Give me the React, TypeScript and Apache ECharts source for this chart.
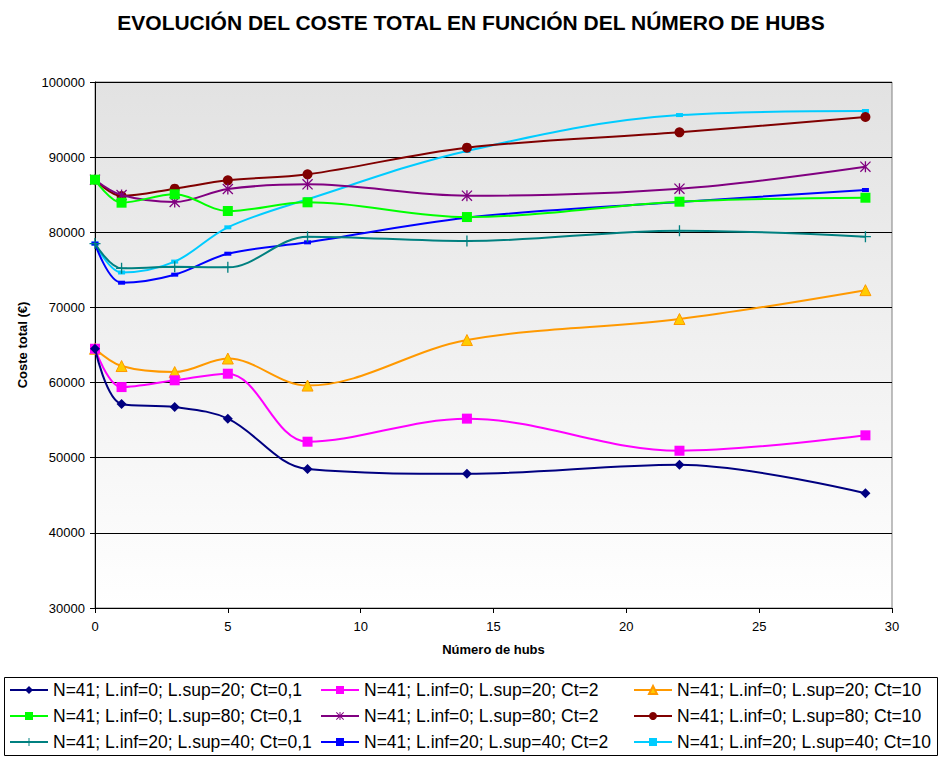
import React, { useEffect, useRef } from "react";
import * as echarts from "echarts";

const hubs = [0, 1, 3, 5, 8, 14, 22, 29];

const seriesNames = [
  "N=41; L.inf=0; L.sup=20; Ct=0,1",
  "N=41; L.inf=0; L.sup=20; Ct=2",
  "N=41; L.inf=0; L.sup=20; Ct=10",
  "N=41; L.inf=0; L.sup=80; Ct=0,1",
  "N=41; L.inf=0; L.sup=80; Ct=2",
  "N=41; L.inf=0; L.sup=80; Ct=10",
  "N=41; L.inf=20; L.sup=40; Ct=0,1",
  "N=41; L.inf=20; L.sup=40; Ct=2",
  "N=41; L.inf=20; L.sup=40; Ct=10",
];

const s1 = [64500, 57150, 56750, 55200, 48500, 47870, 49070, 45270];
const s2 = [64500, 59400, 60300, 61180, 52130, 55200, 50930, 52980];
const s3 = [64500, 62200, 61400, 63200, 59600, 65660, 68460, 72300];
const s4 = [87000, 83940, 85050, 82830, 83990, 82030, 84070, 84600];
const s5 = [87000, 84960, 84030, 85760, 86380, 84870, 85800, 88730];
const s6 = [87000, 84830, 85800, 86910, 87710, 91260, 93300, 95340];
const s7 = [78500, 75200, 75400, 75340, 79420, 78840, 80210, 79420];
const s8 = [78500, 73290, 74360, 77150, 78660, 81940, 84030, 85630];
const s9 = [78500, 74650, 76100, 80660, 84390, 90820, 95600, 96140];

const seriesValues = [s1, s2, s3, s4, s5, s6, s7, s8, s9];

const yTicks = { min: 30000, max: 100000, interval: 10000 };
const xTicks = { min: 0, max: 30, interval: 5 };

const starPath =
  "path://M4.4,0 H5.6 V10 H4.4 Z M0,0.8 L0.8,0 L10,9.2 L9.2,10 Z M9.2,0 L10,0.8 L0.8,10 L0,9.2 Z";
const plusPath = "path://M4.4,0 H5.6 V10 H4.4 Z M0,4.4 H10 V5.6 H0 Z";

const styles = [
  { color: "#000080", symbol: "diamond", size: 10, fill: "#000080" },
  { color: "#FF00FF", symbol: "rect", size: 10, fill: "#FF00FF" },
  { color: "#FF9900", symbol: "triangle", size: 11, fill: "#FFCC00" },
  { color: "#00FF00", symbol: "rect", size: 10, fill: "#00FF00" },
  { color: "#800080", symbol: starPath, size: 11, fill: "#800080" },
  { color: "#800000", symbol: "circle", size: 10, fill: "#800000" },
  { color: "#008080", symbol: plusPath, size: 11, fill: "#008080" },
  { color: "#0000FF", symbol: "rect", size: [7, 4], fill: "#0000FF" },
  { color: "#00CCFF", symbol: "rect", size: [7, 4], fill: "#00CCFF" },
];

const FONT = "'Liberation Sans', Arial, sans-serif";

export default function App() {
  const ref = useRef<HTMLDivElement>(null);
  useEffect(() => {
    if (!ref.current) return;
    const chart = echarts.init(ref.current, null, { renderer: "svg" });
    const series = seriesNames.map((name, i) => {
      const st = styles[i];
      return {
        name,
        type: "line",
        smooth: 0.35,
        data: hubs.map((h, j) => [h, seriesValues[i][j]]),
        symbol: st.symbol,
        symbolSize: st.size,
        showAllSymbol: true,
        lineStyle: { color: st.color, width: 2 },
        itemStyle: {
          color: st.fill,
          borderColor: st.color,
          borderWidth: i === 2 ? 1 : 0,
        },
        z: 10 - i,
      };
    });
    const legendCols = [
      [0, 3, 6],
      [1, 4, 7],
      [2, 5, 8],
    ];
    const legendLefts = [9, 320, 633];
    const legends = legendCols.map((col, k) => ({
      orient: "vertical",
      left: legendLefts[k],
      top: 680,
      padding: 0,
      itemGap: 6,
      itemWidth: 38,
      itemHeight: 10,
      textStyle: { fontFamily: FONT, fontSize: 17.5, lineHeight: 20, color: "#000" },
      data: col.map((i) => seriesNames[i]),
    }));
    chart.setOption({
      animation: false,
      backgroundColor: "#ffffff",
      title: {
        text: "EVOLUCIÓN DEL COSTE TOTAL EN FUNCIÓN DEL NÚMERO DE HUBS",
        left: "center",
        top: 7,
        textStyle: { fontFamily: FONT, fontSize: 21, fontWeight: "bold", color: "#000" },
      },
      legend: legends,
      graphic: [
        {
          type: "rect",
          shape: { x: 4.5, y: 677.5, width: 933, height: 78 },
          style: { fill: "none", stroke: "#000", lineWidth: 1 },
          silent: true,
        },
      ],
      grid: {
        left: 95,
        right: 50,
        top: 82,
        bottom: 150,
        show: true,
        borderColor: "#808080",
        borderWidth: 1,
        backgroundColor: new echarts.graphic.LinearGradient(0, 0, 0, 1, [
          { offset: 0, color: "#e2e2e2" },
          { offset: 1, color: "#ffffff" },
        ]),
      },
      xAxis: {
        type: "value",
        min: xTicks.min,
        max: xTicks.max,
        interval: xTicks.interval,
        name: "Número de hubs",
        nameLocation: "middle",
        nameGap: 35,
        nameTextStyle: { fontFamily: FONT, fontSize: 13, fontWeight: "bold", color: "#000" },
        axisLine: { lineStyle: { color: "#000", width: 1 } },
        axisTick: { show: true, length: 5, lineStyle: { color: "#000" } },
        axisLabel: { fontFamily: FONT, fontSize: 13, color: "#000", margin: 12 },
        splitLine: { show: false },
      },
      yAxis: {
        type: "value",
        min: yTicks.min,
        max: yTicks.max,
        interval: yTicks.interval,
        name: "Coste total (€)",
        nameLocation: "middle",
        nameGap: 66,
        nameRotate: 90,
        nameTextStyle: { fontFamily: FONT, fontSize: 13, fontWeight: "bold", color: "#000" },
        axisLine: { show: true, lineStyle: { color: "#000", width: 1 } },
        axisTick: { show: true, length: 5, lineStyle: { color: "#000" } },
        axisLabel: {
          fontFamily: FONT,
          fontSize: 13,
          color: "#000",
          margin: 10,
          formatter: (v: number) => String(v),
        },
        splitLine: { show: true, lineStyle: { color: "#000", width: 1 } },
      },
      series,
    });
    return () => chart.dispose();
  }, []);
  return (
    <div
      ref={ref}
      style={{ position: "fixed", left: 0, top: 0, width: 942, height: 758 }}
    />
  );
}
